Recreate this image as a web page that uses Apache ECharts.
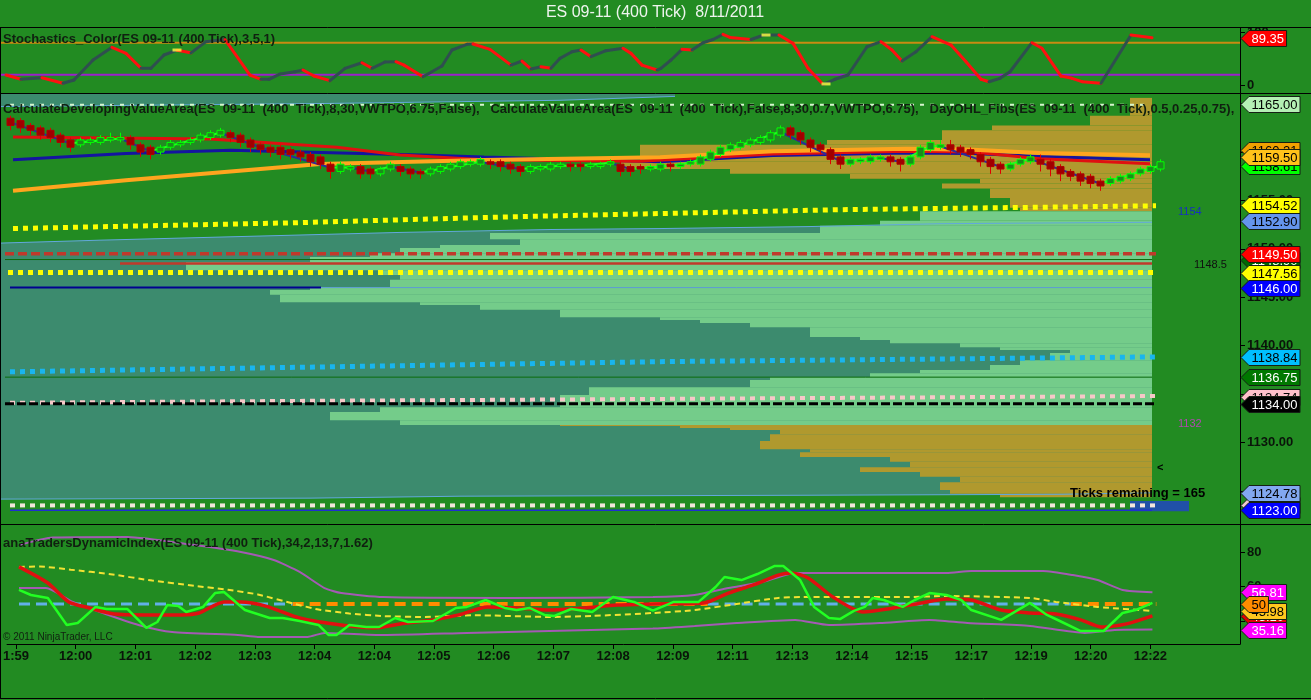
<!DOCTYPE html>
<html><head><meta charset="utf-8">
<script src="https://cdn.jsdelivr.net/npm/echarts@6/dist/echarts.min.js"></script>
<style>html,body{margin:0;padding:0;background:#228B22;}#c{width:1311px;height:700px;}</style>
</head><body><div id="c"></div>
<script>
// ---------------- DATA ----------------
const timeLabels = ['1:59','12:00','12:01','12:02','12:03','12:04','12:04','12:05','12:06','12:07','12:08','12:09','12:11','12:13','12:14','12:15','12:17','12:19','12:20','12:22'];
const labelEvery = 6; // bars per time label

// candles [open, close, low, high], one per bar
const candles = [
[1163.5,1162.75,1162.25,1163.75],[1163.25,1162.5,1162.0,1163.5],[1162.75,1162.25,1161.75,1163.0],[1162.5,1161.75,1161.25,1162.75],[1162.25,1161.5,1161.0,1162.5],[1161.75,1161.0,1160.5,1162.0],
[1161.25,1160.5,1160.0,1161.5],[1160.75,1161.25,1160.5,1161.5],[1161.0,1161.25,1160.75,1161.5],[1161.0,1161.5,1160.75,1161.75],[1161.25,1161.5,1161.0,1162.0],[1161.25,1161.5,1161.0,1162.0],
[1161.5,1160.75,1160.25,1161.75],[1160.75,1160.0,1159.5,1161.0],[1160.5,1159.75,1159.25,1160.75],[1160.0,1160.5,1159.75,1160.75],[1160.5,1161.0,1160.25,1161.25],[1160.75,1161.0,1160.5,1161.25],
[1161.0,1161.25,1160.75,1161.5],[1161.25,1161.75,1161.0,1162.0],[1161.5,1162.0,1161.25,1162.25],[1161.75,1162.25,1161.5,1162.5],[1162.0,1161.5,1161.0,1162.25],[1161.75,1161.0,1160.5,1162.0],
[1161.25,1160.5,1160.0,1161.5],[1160.75,1160.25,1159.75,1161.0],[1160.5,1160.0,1159.5,1160.75],[1160.5,1159.75,1159.25,1160.75],[1160.25,1159.75,1159.25,1160.5],[1160.0,1159.5,1159.0,1160.25],
[1159.75,1159.0,1158.5,1160.0],[1159.5,1158.75,1158.25,1159.75],[1158.75,1158.0,1157.25,1159.0],[1158.0,1158.75,1157.75,1159.0],[1158.25,1158.5,1158.0,1158.75],[1158.5,1157.75,1157.25,1158.75],
[1158.25,1157.75,1157.25,1158.5],[1157.75,1158.25,1157.5,1158.5],[1158.25,1158.75,1158.0,1159.0],[1158.5,1158.0,1157.5,1158.75],[1158.25,1157.75,1157.25,1158.5],[1158.0,1157.75,1157.25,1158.25],
[1157.75,1158.25,1157.5,1158.5],[1158.0,1158.5,1157.75,1158.75],[1158.25,1158.75,1158.0,1159.0],[1158.5,1159.0,1158.25,1159.25],[1158.75,1159.0,1158.5,1159.25],[1158.75,1159.25,1158.5,1159.5],
[1159.0,1158.75,1158.25,1159.25],[1159.0,1158.5,1158.0,1159.25],[1158.75,1158.25,1157.75,1159.0],[1158.5,1158.0,1157.5,1158.75],[1158.0,1158.5,1157.75,1158.75],[1158.25,1158.5,1158.0,1158.75],
[1158.25,1158.75,1158.0,1159.0],[1158.5,1158.75,1158.25,1159.0],[1158.75,1158.5,1158.0,1159.0],[1158.75,1158.5,1158.0,1159.0],[1158.5,1158.75,1158.25,1159.0],[1158.5,1158.75,1158.25,1159.0],
[1158.75,1159.0,1158.5,1159.25],[1158.75,1158.0,1157.5,1159.0],[1158.5,1158.0,1157.5,1158.75],[1158.5,1158.25,1157.75,1158.75],[1158.25,1158.5,1158.0,1158.75],[1158.25,1158.75,1158.0,1159.0],
[1158.75,1158.5,1158.0,1159.0],[1158.5,1158.75,1158.25,1159.0],[1158.75,1159.0,1158.5,1159.25],[1158.75,1159.5,1158.5,1159.75],[1159.25,1160.0,1159.0,1160.25],[1159.75,1160.5,1159.5,1160.75],
[1160.25,1160.75,1160.0,1161.0],[1160.5,1161.0,1160.25,1161.25],[1160.75,1161.25,1160.5,1161.5],[1161.0,1161.5,1160.75,1161.75],[1161.25,1162.0,1161.0,1162.25],[1161.75,1162.5,1161.5,1162.75],
[1162.5,1161.75,1161.25,1162.75],[1162.0,1161.25,1160.75,1162.25],[1161.25,1160.5,1160.0,1161.5],[1160.75,1160.25,1159.75,1161.0],[1160.25,1159.25,1158.75,1160.5],[1159.5,1158.75,1158.25,1159.75],
[1158.75,1159.25,1158.5,1159.5],[1159.0,1159.25,1158.75,1159.5],[1159.0,1159.5,1158.75,1159.75],[1159.25,1159.5,1159.0,1159.75],[1159.5,1159.0,1158.5,1159.75],[1159.25,1158.75,1158.0,1159.5],
[1158.75,1159.5,1158.5,1159.75],[1159.5,1160.5,1159.25,1160.75],[1160.25,1161.0,1160.0,1161.25],[1160.5,1160.75,1160.25,1161.25],[1160.75,1160.25,1159.75,1161.25],[1160.5,1160.0,1159.5,1160.75],
[1160.25,1159.75,1159.25,1160.5],[1159.75,1159.0,1158.5,1160.0],[1159.25,1158.5,1157.75,1159.5],[1158.75,1158.25,1157.75,1159.0],[1158.25,1158.75,1158.0,1159.0],[1158.75,1159.25,1158.5,1159.5],
[1159.0,1159.5,1158.75,1159.75],[1159.25,1158.75,1158.0,1159.75],[1159.0,1158.25,1157.5,1159.25],[1158.5,1157.75,1157.0,1158.75],[1158.0,1157.5,1157.0,1158.25],[1157.75,1157.0,1156.5,1158.0],
[1157.5,1156.75,1156.25,1157.75],[1157.0,1156.5,1156.0,1157.25],[1156.75,1157.25,1156.5,1157.5],[1157.0,1157.5,1156.75,1157.75],[1157.25,1157.75,1157.0,1158.0],[1157.75,1158.25,1157.5,1158.5],
[1158.0,1158.5,1157.75,1158.75],[1158.25,1159.0,1158.0,1159.25]
];

// moving averages on price panel [bar, price]
const maRed = [[0.3,1161.55],[20,1161.35],[32.7,1160.5],[39,1159.7],[47.4,1159.2],[63,1159.05],[76.3,1159.8],[89.7,1160.08],[96.3,1160.0],[103,1159.3],[114,1158.8]];
const maBlue = [[0.3,1159.2],[11.6,1159.85],[22.1,1160.2],[41.1,1159.7],[47.4,1159.5],[65,1159.0],[76.3,1159.65],[89.7,1159.9],[96.3,1159.85],[103,1159.55],[114,1159.2]];
const maOrange = [[0.3,1156.0],[11.6,1157.1],[31,1158.77],[47.4,1159.18],[65,1159.46],[76.3,1160.08],[89.7,1160.35],[96.3,1160.24],[103,1159.9],[114,1159.67]];
const fastLine = [[0,1163.1],[6,1160.9],[8,1161.1],[11,1161.4],[14,1160.1],[21,1162.0],[25,1160.5],[32,1158.4],[34,1158.4],[36,1158.0],[38,1158.5],[41,1157.9],[47,1159.0],[51,1158.25],[55,1158.6],[57,1158.6],[60,1158.9],[62,1158.25],[64,1158.4],[66,1158.6],[68,1158.9],[77,1162.1],[83,1159.1],[87,1159.4],[89,1159.0],[92,1160.6],[93,1160.6],[99,1158.5],[102,1159.3],[109,1156.75],[115,1158.6]];

// developing value area
const vahLine = [[-0.9,1150.6],[9,1150.9],[24,1151.3],[39,1151.7],[54,1152.0],[65,1152.1],[79.7,1152.3],[93,1152.6],[114.2,1152.75]];
const valLine = [[-0.9,1124.15],[30,1124.25],[45,1124.45],[80,1124.55],[105,1124.65],[114.2,1124.8]];
const topStripLine = [[-0.9,1164.7],[30,1165.0],[55,1165.35],[66.5,1165.75]];
const profileEnd = 114.2;
// profile rows [priceLow, priceHigh, startBar]
const oliveTopRows = [[1163.75,1165.6,112],[1162.75,1163.75,108],[1162.25,1162.75,98.2],[1161.25,1162.25,93.2],[1160.75,1161.25,81.7],[1159.0,1160.75,63],[1158.25,1159.0,61],[1157.75,1158.25,72],[1157.25,1157.75,84],[1156.75,1157.25,97],[1156.25,1156.75,93.2],[1155.25,1156.25,98],[1154.25,1155.25,100],[1153.9,1154.25,101]];
const valueRows = [[1152.9,1153.9,91],[1152.4,1152.9,87],[1151.65,1152.4,81],[1151.0,1151.65,48],[1150.4,1151.0,51],[1150.1,1150.4,43],[1149.55,1150.1,39],[1149.15,1149.55,36],[1148.65,1149.15,30],[1147.8,1148.65,17.6],[1147.3,1147.8,37],[1146.8,1147.3,39],[1146.05,1146.8,38],[1145.75,1146.05,30],[1145.25,1145.75,26],[1144.5,1145.25,27],[1144.2,1144.5,41],[1143.7,1144.2,47],[1142.95,1143.7,55],[1142.65,1142.95,65],[1142.35,1142.65,69],[1141.9,1142.35,74],[1140.9,1141.9,80],[1140.6,1140.9,85],[1140.25,1140.6,88],[1139.85,1140.25,95],[1139.55,1139.85,99],[1139.25,1139.55,106],[1138.5,1139.25,104],[1138.0,1138.5,101],[1137.5,1138.0,98],[1137.15,1137.5,91],[1136.75,1137.15,86],[1136.45,1136.75,76],[1135.7,1136.45,74],[1134.9,1135.7,57.9],[1133.65,1134.9,55],[1133.15,1133.65,37],[1132.3,1133.15,32],[1131.8,1132.3,39]];
const oliveBottomRows = [[1131.7,1131.8,55],[1131.5,1131.7,67],[1131.3,1131.5,72],[1130.85,1131.3,77],[1130.15,1130.85,76],[1129.3,1130.15,75],[1129.0,1129.3,80],[1128.5,1129.0,79],[1128.0,1128.5,88],[1127.45,1128.0,90],[1126.95,1127.45,85],[1126.45,1126.95,91],[1125.9,1126.45,95],[1125.1,1125.9,93],[1124.7,1125.1,94],[1124.35,1124.7,99]];
const currentBarBox = [[112,117.9,1122.9,1123.95]];

// levels on price panel [bar, price]
const fibUpper = [[0.3,1152.1],[28.5,1152.7],[49.5,1153.3],[65,1153.65],[83,1154.05],[114.6,1154.45]];
const redDash = [[-0.5,1149.5],[114.6,1149.5]];
const greenThinA = [[-0.5,1148.9],[114.2,1148.9]];
const redThin = [[11,1148.5],[114.2,1148.5]];
const yellowMid = [[-0.2,1147.56],[114.6,1147.56]];
const blueDark = [[0,1146.0],[31.1,1146.0]];
const blueLight = [[31.1,1146.0],[114.2,1146.0]];
const cyanLine = [[0,1137.3],[65,1138.35],[114.6,1138.84]];
const greenThinB = [[-0.5,1136.75],[114.2,1136.75]];
const pinkLine = [[0,1134.1],[26,1134.28],[65,1134.5],[114.6,1134.8]];
const blackDash = [[-0.5,1134.0],[114.6,1134.0]];
const whiteDots = [[0,1123.5],[114.6,1123.5]];
const blueLow = [[0,1123.0],[114.2,1123.0]];
const paleTop = [[0,1164.9],[114,1164.9]];

const mainMarkers = [1165.00,1160.21,1158.61,1159.50,1154.52,1152.90,1148.90,1149.50,1147.56,1146.00,1138.84,1136.75,1134.74,1134.00,1123.50,1124.78,1123.00];

// stochastics [bar, value]
const stochK = [[-0.4,19.4],[1.1,11.4],[3.2,14.4],[5.3,3.9],[6.4,10],[8.3,47.6],[10.2,71.4],[11.6,60],[13.1,32],[14.1,32],[15.4,57],[16.7,66],[18.1,61],[19.6,82],[21.5,86],[24,19.4],[25.1,11.4],[25.9,11.4],[27,21.3],[28.5,25.6],[29.3,28.8],[30.4,17.5],[32,8.8],[33.5,32],[35.2,42.5],[36.2,32],[37.5,43.8],[38.6,44.4],[39.4,38],[41.3,16.3],[43.2,36.3],[44.2,66.3],[45.7,77],[46.3,77.6],[48,67.6],[50.1,38],[51.2,45.7],[52.1,30.7],[53.1,35],[54.1,32],[55,50.7],[56.2,63],[57.1,66.3],[58.1,53.8],[59.6,65],[61.3,69.5],[62.1,60],[63.2,38],[64.7,28.8],[65.1,32],[66.1,47.6],[67.2,67.6],[68.2,66.3],[69.3,80],[70.3,86],[71.3,95.7],[72,90],[74.1,86],[75.4,94.4],[76.9,94.4],[78.3,78.8],[79.8,32],[81.3,2],[82.5,11.4],[83.8,19.4],[85.7,72.5],[87.1,82],[88.2,66.3],[89.2,45.7],[90.6,63],[92.2,91.3],[94.1,75.7],[95.6,44.4],[97.1,11.4],[97.9,6.9],[99,13.2],[100,25.6],[102.2,80],[103.2,69.5],[105.1,17.5],[106.2,13.2],[107.2,6.9],[109.1,3.9],[112.1,94.4],[114.2,89.35]];
const stochFlatMarks = [[16.7,66.3],[75.6,94.4],[81.6,2.7]];
const stochLevels = [80, 20];
const stochMarkers = [89.35];

// traders dynamic index [bar, value]
const tdiUpper = [[0.3,84],[3.7,88.4],[11.2,88.7],[17.9,84],[22.6,80],[25.9,75.4],[28.5,68.5],[31,59.2],[32.7,56.3],[36.9,54],[49.5,53.5],[64,54],[68.2,55.2],[71.6,59.2],[75,62.7],[78.3,67.9],[93.5,67.9],[96,69],[103.2,69],[106.2,66.7],[108.7,63.8],[111.2,58.1],[114.2,56.8]];
const tdiLower = [[0.3,59.2],[3,59.2],[5.7,51.2],[9,44.2],[12.3,37.9],[15.7,33.8],[22.3,32.1],[24.3,31],[29.3,31],[31,33.3],[36.9,32.1],[45.3,33.3],[64,35.8],[68.2,37.3],[72.4,39],[78.3,40.8],[81.7,37.9],[86.8,39],[91.8,40.8],[95.6,39],[101.9,37.3],[107.4,33.3],[110.4,35],[114.2,35.2]];
const tdiRed = [[0.3,71.4],[3.2,62.1],[5.3,51.2],[7.4,47.7],[9.9,44.2],[12.9,43.7],[16.7,43.7],[18.4,44.8],[20.9,51.2],[22.6,51.2],[25.1,48.8],[28.5,41.9],[30.6,39.6],[33.5,37.3],[36,36.2],[38.6,38.5],[41.9,40.8],[44.5,43.7],[47.4,48.3],[50.3,47.7],[53.7,46.5],[57.1,47.7],[60.4,49.4],[64,50],[69.1,50.6],[71.6,56.3],[74.1,61],[76.6,66.7],[77.9,67.9],[79.6,65],[82.1,54],[85.1,45.4],[87.6,47.1],[91,50.6],[93.5,52.9],[96,52.3],[99,46.5],[101.9,44.8],[104.5,44.2],[107,40.8],[109.1,36.7],[111.6,38.5],[114.2,43.1]];
const tdiGreen = [[0.3,58.1],[1.5,55.2],[3.2,53.5],[5.1,37.9],[6.2,39],[8,48.3],[9.1,47.1],[11.2,47.1],[13.1,36.2],[14.2,39.6],[15.2,49.4],[16.3,48.8],[17.1,45.4],[18.8,48.3],[20,56.3],[20.9,56.9],[23,46.5],[25.5,41.9],[26.8,41.9],[28.5,40.2],[30.4,37.9],[31.4,32.1],[32.2,32.1],[33.5,37.9],[35.2,36.7],[36.5,36.7],[38.1,41.9],[39.4,39.6],[41.9,40.2],[44.2,47.7],[45.3,48.3],[47.2,52.3],[49.1,47.7],[50.3,46.5],[51.6,47.7],[53.1,43.7],[54.1,43.1],[55.8,47.1],[57.9,45.4],[60,54],[62.1,51.2],[64,46.2],[66.1,51.2],[68.6,51.2],[70.3,59.8],[71.2,65.6],[72.9,63.8],[74.5,67.3],[76.2,71.9],[77.1,71.9],[78.8,63.8],[80.2,48.3],[81.7,41.9],[82.8,41.3],[84.2,46],[85.3,48.3],[86.1,53.5],[87.2,52.3],[89.1,48.3],[90.3,52.3],[91.8,56.3],[93.5,55.2],[95,52.3],[96,46.5],[99,40.8],[101.9,50.6],[103.6,43.7],[105.1,39.6],[107,34.4],[109.3,34.4],[111.2,44.8],[112.5,46.5],[114.2,50.6]];
const tdiYellow = [[0.3,71.4],[2.4,71.6],[5.5,69.8],[9.5,67.2],[13.7,63.5],[17.9,60.5],[21.3,58.2],[24.3,55.5],[27.8,50.3],[30.4,46.8],[33.5,44.5],[37,43],[41.1,42.5],[46.1,43.5],[53.7,42.5],[57.9,43.1],[64,44.8],[68.2,46.5],[72.4,50],[76.6,53.5],[78.8,54],[89.3,54],[93.5,54.6],[101.9,53.5],[104.5,51.2],[108.7,48.3],[114.2,46]];
const tdiMid = 50;
const midBlueSpans = [[0.3,27.8],[69.5,106]];
const midOrangeSpans = [[27.8,69.5],[106,114.6]];
const tdiMarkers = [56.81, 43.10, 45.98, 50, 35.16];

// ---------------- CHART ----------------
const X_MIN = -0.9, X_MAX = 123;
const BG = '#228B22', TEAL = '#3C8B6E', LIGHT = '#74CC8A', OLIVE = '#B0992E';
const SANS = '"Liberation Sans",Arial,sans-serif';
const MARK_FONT = '13px ' + SANS;
const _ctx = document.createElement('canvas').getContext('2d');
function textW(t, font){ _ctx.font = font; return _ctx.measureText(t).width; }

function ln(data, gi, color, width, type, extra){
  return Object.assign({type:'line', xAxisIndex:gi, yAxisIndex:gi, data:data, showSymbol:false, symbol:'none', silent:true,
    lineStyle:{color:color, width:width, type:type||'solid', cap:'butt'}, z:3}, extra||{});
}
function polySeries(gi, pointsFn, color){
  return {type:'custom', xAxisIndex:gi, yAxisIndex:gi, clip:true, silent:true, z:1, data:[[0,0]],
    renderItem:function(p, api){ return {type:'polygon', shape:{points:pointsFn().map(function(q){return api.coord(q);})}, style:{fill:color}}; }};
}
function rowSeries(rows, color){
  return {type:'custom', xAxisIndex:1, yAxisIndex:1, clip:true, silent:true, z:1, data:rows, encode:{x:2, y:[0,1]},
    renderItem:function(p, api){
      const a = api.coord([api.value(2), api.value(1)]);
      const b = api.coord([profileEnd, api.value(0)]);
      return {type:'rect', shape:{x:a[0], y:a[1], width:b[0]-a[0], height:b[1]-a[1]}, style:{fill:color}};
    }};
}
function segSeries(gi, pts, upColor, downColor, width, z){
  const segs = [];
  for (let i=1;i<pts.length;i++) segs.push([pts[i-1][0],pts[i-1][1],pts[i][0],pts[i][1]]);
  return {type:'custom', xAxisIndex:gi, yAxisIndex:gi, clip:true, silent:true, z:z||4, data:segs, encode:{x:[0,2], y:[1,3]},
    renderItem:function(p, api){
      const a = api.coord([api.value(0), api.value(1)]), b = api.coord([api.value(2), api.value(3)]);
      const down = api.value(3) < api.value(1);
      return {type:'line', shape:{x1:a[0],y1:a[1],x2:b[0],y2:b[1]}, style:{stroke: down?downColor:upColor, lineWidth:width, lineCap:'round'}};
    }};
}
function markerSeries(gi, vals, bgs, fgs, fmt){
  return {type:'custom', xAxisIndex:gi, yAxisIndex:gi, clip:false, silent:true, z:30,
    data: vals.map(function(v){return [X_MAX, v];}), encode:{x:0, y:1},
    renderItem:function(p, api){
      const i = p.dataIndex, v = api.value(1);
      const c = api.coord([api.value(0), v]);
      const txt = fmt(v);
      const w = textW(txt, MARK_FONT) + 5, h = 16, tip = 8;
      const x0 = c[0] + 1, y = Math.round(c[1]) + 0.5;
      return {type:'group', children:[
        {type:'polygon', shape:{points:[[x0,y],[x0+tip,y-h/2],[x0+tip+w,y-h/2],[x0+tip+w,y+h/2],[x0+tip,y+h/2]]}, style:{fill:bgs[i], stroke:'#142014', lineWidth:1}},
        {type:'text', style:{text:txt, x:x0+tip+w/2, y:y+0.5, align:'center', verticalAlign:'middle', fill:fgs[i], font:MARK_FONT}}
      ]};
    }};
}

const grids = [
  {left:1, right:71, top:28, height:65},
  {left:1, right:71, top:94, height:430},
  {left:1, right:71, top:525, height:119}
];
const labelVals = timeLabels.map(function(_, k){ return k*labelEvery; });
const xAxes = [0,1,2].map(function(g){
  return {type:'value', gridIndex:g, min:X_MIN, max:X_MAX, show:g===2, splitLine:{show:false},
    axisLine:{show:true, lineStyle:{color:'#000', width:1}},
    axisTick:{show:true, customValues:labelVals, length:5, lineStyle:{color:'#000'}},
    axisLabel:{customValues:labelVals, margin:6, color:'#0a140a', fontWeight:'bold', fontSize:13, fontFamily:SANS,
      formatter:function(v){ return timeLabels[Math.round(v/labelEvery)] || ''; }}};
});
function yAx(g, min, max, ticks, fmt){
  return {type:'value', gridIndex:g, position:'right', min:min, max:max, splitLine:{show:false},
    axisLine:{show:true, onZero:false, lineStyle:{color:'#000', width:1}},
    axisTick:{show:true, customValues:ticks, length:5, lineStyle:{color:'#000'}},
    axisLabel:{customValues:ticks, margin:7, color:'#0a140a', fontWeight:'bold', fontSize:13, fontFamily:SANS, formatter:fmt}};
}
const yAxes = [
  yAx(0, -14.3, 107.6, [0,100], function(v){return String(v);}),
  yAx(1, 1121.58, 1166.0, [1125,1130,1135,1140,1145,1150,1155,1160,1165], function(v){return v.toFixed(2);}),
  yAx(2, 26.9, 95.6, [40,60,80], function(v){return String(v);})
];

const series = [];
// ---- stochastics panel
series.push(ln([[X_MIN,stochLevels[0]],[X_MAX,stochLevels[0]]], 0, '#C98B12', 2));
series.push(ln([[X_MIN,stochLevels[1]],[X_MAX,stochLevels[1]]], 0, '#9B1FCB', 2));
series.push(segSeries(0, stochK, '#2F4F4F', '#FF1010', 3, 4));
series.push({type:'scatter', xAxisIndex:0, yAxisIndex:0, data:stochFlatMarks, symbol:'rect', symbolSize:[9,3], itemStyle:{color:'#FFFF40'}, silent:true, z:5});
series.push(markerSeries(0, stochMarkers, ['#FF0000'], ['#FFFFFF'], function(v){return v.toFixed(2);}));

// ---- price panel
series.push(polySeries(1, function(){ return topStripLine.concat([[topStripLine[topStripLine.length-1][0],1166.5],[X_MIN,1166.5]]); }, TEAL));
series.push(polySeries(1, function(){ return vahLine.concat(valLine.slice().reverse()); }, TEAL));
series.push(rowSeries(oliveTopRows, OLIVE));
series.push(rowSeries(valueRows, LIGHT));
series.push(rowSeries(oliveBottomRows, OLIVE));
series.push({type:'custom', xAxisIndex:1, yAxisIndex:1, clip:true, silent:true, z:2, data:currentBarBox, encode:{x:[0,1], y:[2,3]},
  renderItem:function(p, api){ const a=api.coord([api.value(0),api.value(3)]), b=api.coord([api.value(1),api.value(2)]);
    return {type:'rect', shape:{x:a[0],y:a[1],width:b[0]-a[0],height:b[1]-a[1]}, style:{fill:'#2050A8'}}; }});
series.push(ln(topStripLine, 1, '#62A8DC', 1));
series.push(ln(vahLine, 1, '#62A8DC', 1));
series.push(ln(valLine, 1, '#62A8DC', 1));
series.push(ln(paleTop, 1, '#D6F6CF', 2, [4,6]));
series.push(ln(fibUpper, 1, '#FFFF00', 5, [5,5]));
series.push(ln(redDash, 1, '#C0392B', 3.5, [9,4]));
series.push(ln(greenThinA, 1, '#0B6B0B', 1));
series.push(ln(redThin, 1, '#C0392B', 2.5));
series.push(ln(yellowMid, 1, '#FFFF00', 5, [5,5]));
series.push(ln(blueDark, 1, '#000090', 2));
series.push(ln(blueLight, 1, '#5C9BD5', 1));
series.push(ln(cyanLine, 1, '#19B5EE', 5, [5,5]));
series.push(ln(greenThinB, 1, '#0B6B0B', 1));
series.push(ln(pinkLine, 1, '#F6C8C8', 4, [5,5]));
series.push(ln(blackDash, 1, '#000000', 3, [9,3]));
series.push(ln(whiteDots, 1, '#F3E5DC', 4, [5,5]));
series.push(ln(blueLow, 1, '#1F2FD0', 1.5));
series.push(ln(maBlue, 1, '#1414A0', 3, 'solid', {z:4}));
series.push(ln(maRed, 1, '#E01010', 3, 'solid', {z:4}));
series.push(ln(maOrange, 1, '#FFA51E', 4, 'solid', {z:4}));
series.push(segSeries(1, fastLine, '#22FF22', '#2B2B9A', 2, 5));
series.push({type:'custom', xAxisIndex:1, yAxisIndex:1, clip:true, silent:true, z:6,
  data: candles.map(function(d,i){ return [i, d[0], d[1], d[2], d[3]]; }), encode:{x:0, y:[1,2,3,4]},
  renderItem:function(p, api){
    const x = api.value(0), o = api.value(1), c = api.value(2), l = api.value(3), h = api.value(4);
    const po = api.coord([x,o]), pc = api.coord([x,c]), pl = api.coord([x,l]), ph = api.coord([x,h]);
    const up = c >= o, bw = 7;
    const top = Math.min(po[1],pc[1]), bot = Math.max(po[1],pc[1]);
    const cx = Math.round(po[0]) + 0.5;
    return {type:'group', children:[
      {type:'line', shape:{x1:cx,y1:pl[1],x2:cx,y2:ph[1]}, style:{stroke: up?'#00FF00':'#E00000', lineWidth:1}},
      {type:'rect', shape:{x:cx-bw/2, y:top, width:bw, height:Math.max(1,bot-top)}, style:{fill: up?'#1C8C1C':'#A00000', stroke: up?'#00FF00':'#B00000', lineWidth:1}}
    ]};
  }});
series.push(markerSeries(1, mainMarkers,
  ['#B4F0B4','#F0A000','#00FF00','#FFC21A','#FFFF00','#6495ED','#006A00','#FF0000','#FFFF00','#0000FF','#00BFFF','#007800','#FFC0CB','#000000','#F0C8D0','#82A8F0','#0000FF'],
  ['#000','#000','#000','#000','#000','#000','#FFF','#FFF','#000','#FFF','#000','#FFF','#000','#FFF','#000','#000','#FFF'],
  function(v){return v.toFixed(2);}));

// ---- TDI panel
series.push(ln(tdiUpper, 2, '#A45AB4', 2, 'solid', {smooth:0.2}));
series.push(ln(tdiLower, 2, '#A45AB4', 2, 'solid', {smooth:0.2}));
midBlueSpans.forEach(function(s){ series.push(ln([[s[0],tdiMid],[s[1],tdiMid]], 2, '#62B0E8', 3, [11,6])); });
midOrangeSpans.forEach(function(s){ series.push(ln([[s[0],tdiMid],[s[1],tdiMid]], 2, '#FF8C00', 4, [11,6])); });
series.push(ln(tdiYellow, 2, '#F2E233', 2, [6,4], {smooth:0.2, z:4}));
series.push(ln(tdiRed, 2, '#E01010', 3.5, 'solid', {smooth:0.25, z:4}));
series.push(ln(tdiGreen, 2, '#22FF22', 2.5, 'solid', {z:5}));
series.push(markerSeries(2, tdiMarkers, ['#FF00FF','#E00000','#FFC81E','#FF8C00','#FF00FF'], ['#FFF','#FFF','#000','#000','#FFF'],
  function(v){ return Number.isInteger(v) ? String(v) : v.toFixed(2); }));

const TITLE_FONT = 'bold 13px ' + SANS;
const graphic = [
  {type:'text', x:655, y:13, z:100, style:{text:'ES 09-11 (400 Tick)  8/11/2011', align:'center', verticalAlign:'middle', fill:'#EEF4EE', font:'16px ' + SANS}},
  {type:'text', x:3, y:39, z:100, style:{text:'Stochastics_Color(ES 09-11 (400 Tick),3,5,1)', verticalAlign:'middle', fill:'#102010', font:TITLE_FONT}},
  {type:'text', x:3, y:109, z:100, style:{text:'CalculateDevelopingValueArea(ES  09-11  (400  Tick),8,30,VWTPO,6.75,False),   CalculateValueArea(ES  09-11  (400  Tick),False,8,30,0.7,VWTPO,6.75),   DayOHL_Fibs(ES  09-11  (400  Tick),0.5,0.25,0.75),  SIM_Levels(ES  09-11  (400  Tick))', verticalAlign:'middle', fill:'#102010', font:TITLE_FONT, width:1236, overflow:'truncate', ellipsis:''}},
  {type:'text', x:3, y:543, z:100, style:{text:'anaTradersDynamicIndex(ES 09-11 (400 Tick),34,2,13,7,1.62)', verticalAlign:'middle', fill:'#102010', font:TITLE_FONT}},
  {type:'text', x:3, y:637, z:100, style:{text:'\u00A9 2011 NinjaTrader, LLC', verticalAlign:'middle', fill:'#102010', font:'10px ' + SANS}},
  {type:'text', x:1178, y:212, z:100, style:{text:'1154', verticalAlign:'middle', fill:'#1530C0', font:'11px ' + SANS}},
  {type:'text', x:1194, y:265, z:100, style:{text:'1148.5', verticalAlign:'middle', fill:'#101010', font:'11px ' + SANS}},
  {type:'text', x:1178, y:424, z:100, style:{text:'1132', verticalAlign:'middle', fill:'#B048B0', font:'11px ' + SANS}},
  {type:'text', x:1157, y:468, z:100, style:{text:'<', verticalAlign:'middle', fill:'#000', font:'bold 11px ' + SANS}},
  {type:'text', x:1070, y:493, z:100, style:{text:'Ticks remaining = 165', verticalAlign:'middle', fill:'#000', font:TITLE_FONT}},
  {type:'line', z:100, shape:{x1:0,y1:27.5,x2:1311,y2:27.5}, style:{stroke:'#000', lineWidth:1}},
  {type:'line', z:100, shape:{x1:0,y1:93.5,x2:1311,y2:93.5}, style:{stroke:'#000', lineWidth:1}},
  {type:'line', z:100, shape:{x1:0,y1:524.5,x2:1311,y2:524.5}, style:{stroke:'#000', lineWidth:1}},
  {type:'line', z:100, shape:{x1:0,y1:698.5,x2:1311,y2:698.5}, style:{stroke:'#000', lineWidth:1}},
  {type:'line', z:100, shape:{x1:0.5,y1:27,x2:0.5,y2:699}, style:{stroke:'#000', lineWidth:1}}
];

const chart = echarts.init(document.getElementById('c'), null, {renderer:'canvas'});
chart.setOption({
  backgroundColor: BG,
  animation: false,
  grid: grids,
  xAxis: xAxes,
  yAxis: yAxes,
  series: series,
  graphic: graphic
});
</script></body></html>
